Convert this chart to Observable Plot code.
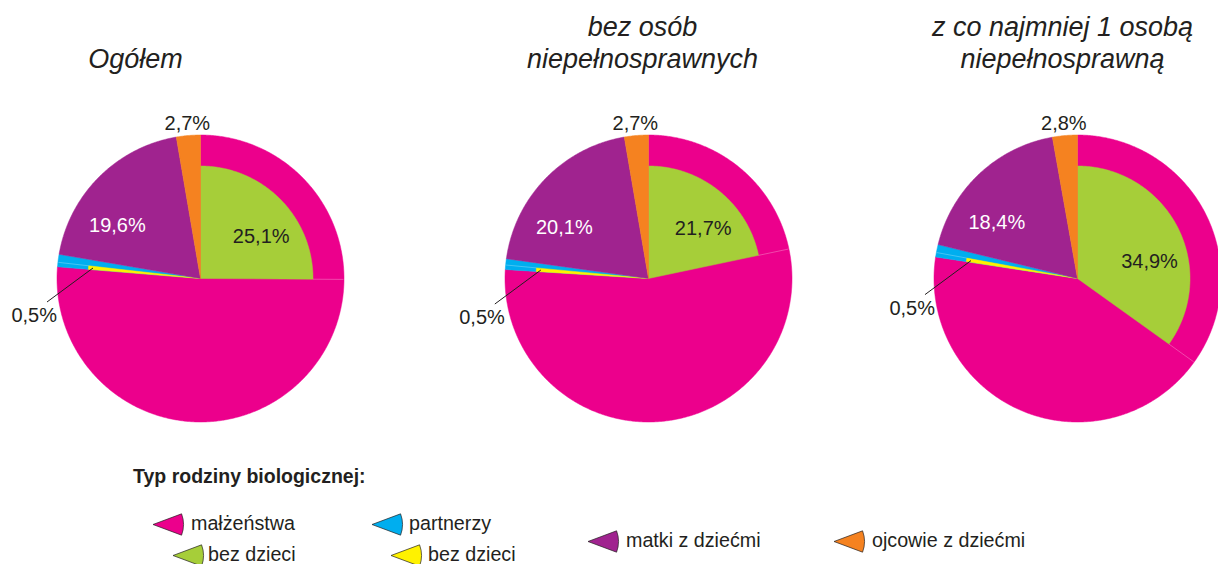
<!DOCTYPE html>
<html>
<head>
<meta charset="utf-8">
<script src="https://cdn.jsdelivr.net/npm/d3@7"></script>
<script src="https://cdn.jsdelivr.net/npm/@observablehq/plot@0.6"></script>
<style>
  html, body { margin: 0; padding: 0; background: #fff; overflow: hidden; }
  body { font-family: "Liberation Sans", Arial, sans-serif; color: #231f20; }
  #wrap { position: relative; width: 1218px; height: 564px; overflow: hidden; }
  #wrap svg { display: block; }
</style>
</head>
<body>
<div id="wrap"><div id="chart"></div><div id="legend"></div></div>
<script>
// ---------------- DATA ----------------
const pieTitles = ["Ogółem", "bez osób\nniepełnosprawnych", "z co najmniej 1 osobą\nniepełnosprawną"];
const malzenstwa = [76.3, 76.0, 77.4];          // whole share of married couples (%)
const malzenstwaBezDzieci = [25.1, 21.7, 34.9];  // of which: without children
const partnerzy = [1.4, 1.2, 1.4];
const partnerzyBezDzieci = [0.5, 0.5, 0.5];
const matkiZDziecmi = [19.6, 20.1, 18.4];
const ojcowieZDziecmi = [2.7, 2.7, 2.8];
const categories = ["małżeństwa", "małżeństwa – bez dzieci", "partnerzy", "partnerzy – bez dzieci", "matki z dziećmi", "ojcowie z dziećmi"];
const colors = ["#ec008c", "#a6ce39", "#00aeef", "#fff200", "#a0238f", "#f58220"];
const legendTitle = "Typ rodziny biologicznej:";
const legendLabels = ["małżeństwa", "bez dzieci", "partnerzy", "bez dzieci", "matki z dziećmi", "ojcowie z dziećmi"];

// ---------------- LAYOUT ----------------
const W = 1218, H = 450, LH = 114;
const R = 143.5, RIN = 112.5;
const centers = [[200, 278], [648, 278], [1077, 278]];
const titleX = [135, 642, 1062];
const titleBaseline = 67;
const FONT = '"Liberation Sans", Arial, sans-serif';
const INK = "#231f20";

const fmt = v => v.toFixed(1).replace(".", ",") + "%";
const deg = p => p * 3.6;
function polar(i, r, a) {
  const [cx, cy] = centers[i];
  const t = a * Math.PI / 180;
  return [cx + r * Math.sin(t), cy - r * Math.cos(t)];
}

const wedges = [], seps = [], leaders = [];
const darkLabels = [], whiteLabels = [], smallLabels = [], titles = [];
pieTitles.forEach((title, i) => {
  const m = deg(malzenstwa[i]);
  const g = deg(malzenstwaBezDzieci[i]);
  const p = deg(partnerzy[i]);
  const py = deg(partnerzyBezDzieci[i]);
  const mt = deg(matkiZDziecmi[i]);
  const o = deg(ojcowieZDziecmi[i]);
  wedges.push({i, cat: categories[0], a0: 0, a1: m, r: R});
  wedges.push({i, cat: categories[1], a0: 0, a1: g, r: RIN});
  wedges.push({i, cat: categories[2], a0: m, a1: m + p, r: R});
  wedges.push({i, cat: categories[3], a0: m, a1: m + py, r: RIN});
  wedges.push({i, cat: categories[4], a0: m + p, a1: m + p + mt, r: R});
  wedges.push({i, cat: categories[5], a0: m + p + mt, a1: m + p + mt + o, r: R});

  for (const a of [g, m + py]) {
    const [x1, y1] = polar(i, RIN, a), [x2, y2] = polar(i, R - 0.5, a);
    seps.push({x1, y1, x2, y2});
  }
  // labels
  const [ox, oy] = polar(i, R + 12, m + p + mt + o / 2);
  darkLabels.push({x: ox, y: oy, text: fmt(ojcowieZDziecmi[i])});
  const [gx, gy] = polar(i, 74, 0.61 * g);
  darkLabels.push({x: gx, y: gy, text: fmt(malzenstwaBezDzieci[i])});
  const [px, pyy] = polar(i, 0.685 * R, m + p + 0.32 * mt);
  whiteLabels.push({x: px, y: pyy, text: fmt(matkiZDziecmi[i])});
  const [ex, ey] = polar(i, 108, m + py / 2);
  const sx = ex - 46, sy = ey + 34;
  leaders.push({x1: sx, y1: sy, x2: ex, y2: ey});
  smallLabels.push({x: sx + 10, y: sy + 14, text: fmt(partnerzyBezDzieci[i])});
  titles.push({x: titleX[i], y: titleBaseline, text: title});
});

const pts = [];
wedges.forEach((w, k) => {
  const [cx, cy] = centers[w.i];
  const n = Math.max(2, Math.ceil((w.a1 - w.a0) / 0.5));
  pts.push({k, cat: w.cat, x: cx, y: cy});
  for (let j = 0; j <= n; j++) {
    const [x, y] = polar(w.i, w.r, w.a0 + (w.a1 - w.a0) * j / n);
    pts.push({k, cat: w.cat, x, y});
  }
  pts.push({k, cat: w.cat, x: cx, y: cy});
});

const chart = Plot.plot({
  width: W, height: H, margin: 0,
  x: {domain: [0, W], range: [0, W], axis: null},
  y: {domain: [0, H], range: [0, H], axis: null},
  color: {domain: categories, range: colors},
  style: {fontFamily: FONT, background: "white", color: INK, overflow: "visible"},
  marks: [
    Plot.line(pts, {x: "x", y: "y", z: "k", fill: "cat", stroke: "cat", strokeWidth: 0.5, strokeLinejoin: "round"}),
    Plot.link(seps, {x1: "x1", y1: "y1", x2: "x2", y2: "y2", stroke: "white", strokeOpacity: 0.35, strokeWidth: 0.8}),
    Plot.link(leaders, {x1: "x1", y1: "y1", x2: "x2", y2: "y2", stroke: INK, strokeWidth: 1}),
    Plot.text(darkLabels, {x: "x", y: "y", text: "text", fontSize: 20, fill: INK}),
    Plot.text(whiteLabels, {x: "x", y: "y", text: "text", fontSize: 20, fill: "white"}),
    Plot.text(smallLabels, {x: "x", y: "y", text: "text", fontSize: 20, fill: INK, textAnchor: "end"}),
    Plot.text(titles, {x: "x", y: "y", text: "text", fontSize: 27, fontStyle: "italic", lineAnchor: "bottom", lineHeight: 1.185, fill: INK})
  ]
});
document.getElementById("chart").appendChild(chart);

// ---------------- LEGEND ----------------
const legendItems = [
  {apex: 153, base: 80, tx: 191},
  {apex: 173, base: 111, tx: 208},
  {apex: 372, base: 80, tx: 409},
  {apex: 391, base: 111, tx: 428},
  {apex: 588, base: 97, tx: 626},
  {apex: 834, base: 97, tx: 872}
];
const lg = d3.create("svg").attr("width", W).attr("height", LH)
  .style("font-family", FONT).style("overflow", "hidden");
lg.append("text").attr("x", 133).attr("y", 33).attr("font-size", 19.5).attr("font-weight", "bold")
  .attr("fill", INK).text(legendTitle);
const swatch = d3.arc().innerRadius(0).outerRadius(30.5)
  .startAngle(69.5 * Math.PI / 180).endAngle(110.5 * Math.PI / 180);
legendItems.forEach((it, j) => {
  lg.append("path").attr("d", swatch())
    .attr("transform", `translate(${it.apex},${it.base - 5.5})`)
    .attr("fill", colors[j]).attr("stroke", INK).attr("stroke-width", 0.7).attr("stroke-linejoin", "round");
  lg.append("text").attr("x", it.tx).attr("y", it.base).attr("font-size", 19.7)
    .attr("fill", INK).text(legendLabels[j]);
});
document.getElementById("legend").appendChild(lg.node());
</script>
</body>
</html>
